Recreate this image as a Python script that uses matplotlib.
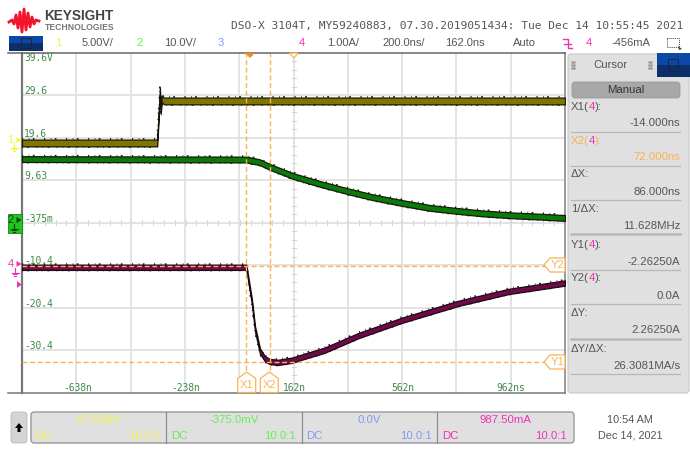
import matplotlib
matplotlib.use("Agg")
import matplotlib.pyplot as plt
from matplotlib.patches import FancyBboxPatch, Rectangle, Polygon
import numpy as np

W, H = 690, 450
PX0, PX1, PY0, PY1 = 22, 565, 53, 392.5

# ---- data (time in ns; vertical in the scope's on-screen scale) ----
ch1_t = [-842, -343, -333, -330, -326, -318, 1162]
ch1_v = [18.4, 18.4, 30.6, 26.0, 28.8, 28.3, 28.3]
ch2_t = [-842, -14, 36, 71, 159, 258, 362, 453, 565, 664, 762, 859, 965, 1070, 1162]
ch2_v = [14.6, 14.5, 13.85, 12.8, 10.6, 8.75, 7.0, 5.6, 4.2, 3.1, 2.4, 1.8, 1.35, 1.04, 0.73]
ch4_t = [-842, -14, 6, 18, 36, 55, 73, 103, 153, 276, 399, 559, 768, 953, 1162]
ch4_v = [-10.9, -10.9, -18.8, -25.4, -30.6, -32.5, -33.1, -33.3, -32.8, -30.4, -27.0, -23.4, -19.4, -16.6, -14.6]
grid_labels = ["39.6V", "29.6", "19.6", "9.63", "-375m", "-10.4", "-20.4", "-30.4"]
grid_values = [39.6, 29.6, 19.6, 9.63, -0.375, -10.4, -20.4, -30.4]
time_labels = ["-638n", "-238n", "162n", "562n", "962ns"]
time_values = [-638, -238, 162, 562, 962]
x1_ns, x2_ns = -14, 72
y1_v, y2_v = -33.3, -10.5
cursor_rows = [("X1", "-14.000ns"), ("X2", "72.000ns"), ("ΔX:", "86.000ns"), ("1/ΔX:", "11.628MHz"),
               ("Y1", "-2.26250A"), ("Y2", "0.0A"), ("ΔY:", "2.26250A"), ("ΔY/ΔX:", "26.3081MA/s")]

SANS = "Liberation Sans"
MONO = "DejaVu Sans Mono"
GREY = "#555555"
ORANGE = "#f9b355"
PINK = "#f032b4"
YEL = "#f5f545"
GRN = "#66ee55"
BLU = "#7f9cf5"

fig = plt.figure(figsize=(W / 100, H / 100), dpi=100, facecolor="white")
ui = fig.add_axes([0, 0, 1, 1], zorder=5)
ui.set_xlim(0, W); ui.set_ylim(H, 0); ui.axis("off")

def T(x, y, s, c=GREY, fs=8, ha="left", va="center", fam=SANS, **k):
    return ui.text(x, y, s, color=c, fontsize=fs, ha=ha, va=va, family=fam, **k)

# logo
logo_x = [9, 12, 14, 16, 18, 20, 22, 24, 26, 28, 30, 32, 34, 36, 39]
logo_y = [22, 20, 24, 15, 28, 12, 32, 9, 30, 13, 27, 17, 24, 20, 21]
ui.plot(logo_x, logo_y, color="#f0142d", lw=2.0, solid_joinstyle="round")
T(44, 16, "KEYSIGHT", "#444444", 9.8, fontweight="bold")
T(45, 27, "TECHNOLOGIES", "#777777", 6.2, fontweight="bold")
T(231, 25.5, "DSO-X 3104T, MY59240883, 07.30.2019051434: Tue Dec 14 10:55:45 2021", GREY, 8.08, fam=MONO)

# header row
ui.add_patch(Rectangle((8.5, 35.5), 34.5, 7.5, fc="#0b48a8", ec="none"))
ui.add_patch(Rectangle((8.5, 43), 34.5, 7.5, fc="#0a2f6a", ec="none"))
ui.add_patch(Rectangle((21, 38), 10, 10, fc="none", ec="#222222", lw=.6))
for x, s, c in [(58, "1", YEL), (82, "5.00V/", GREY), (139.5, "2", GRN), (164, "10.0V/", GREY),
                (221, "3", BLU), (302, "4", PINK), (327, "1.00A/", GREY), (382, "200.0ns/", GREY),
                (445, "162.0ns", GREY), (513, "Auto", GREY), (589, "4", PINK), (612, "-456mA", GREY)]:
    T(x, 43.5, s, c, 8, ha="center" if len(s) == 1 else "left")
ui.plot([563, 568, 568, 572], [39, 39, 48, 48], color=PINK, lw=1)
ui.plot([564, 571], [43.5, 43.5], color=PINK, lw=1)
ui.add_patch(Rectangle((667, 37.5), 12, 9.5, fc="none", ec="#444444", lw=.7, ls=(0, (1, 1))))
ui.add_patch(Polygon([(678, 46), (682, 49), (679, 50)], fc="#444444", ec="none"))

# frame lines that run past the plot
ui.plot([8, PX1], [52.5, 52.5], color="#666666", lw=1.1, zorder=7)
ui.plot([8, PX1], [393, 393], color="#777777", lw=1.1, zorder=7)

# scope plot
ax = fig.add_axes([PX0 / W, 1 - PY1 / H, (PX1 - PX0) / W, (PY1 - PY0) / H], zorder=1)
ax.set_xlim(-842, 1162); ax.set_ylim(-40.4, 39.6)
ax.set_xticks([]); ax.set_yticks([])
for name, s in ax.spines.items():
    s.set_visible(name in ("left", "right"))
ax.spines["left"].set(color="#777777", lw=1.6)
ax.spines["right"].set(color="#999999", lw=1.4)
for k in range(1, 10):
    ax.axvline(-842 + k * 200.4, color="#e0e0e0", lw=1.3, zorder=1)
for k in range(1, 8):
    ax.axhline(-40.4 + k * 10, color="#e0e0e0", lw=1.3, zorder=1)
# minor ticks on the central axes
for k in range(-24, 26):
    ax.plot([162 + k * 40] * 2, [-1.0, 0.25], color="#d4d4d4", lw=.7, zorder=1)
for k in range(-19, 20):
    ax.plot([156, 168], [-0.375 + k * 2] * 2, color="#d4d4d4", lw=.7, zorder=1)

def trace(t, v, core, half, edge="#17170a"):
    t, v = np.asarray(t, float), np.asarray(v, float)
    ax.fill_between(t, v - half, v + half, fc=core, ec=edge, lw=.9, zorder=4)
    # edge fuzz: dashed styling of the same trace, offset to the band's rims
    for sign, dash in ((1, (.7, 3.3, .4, 2.1, 1.0, 5.7)), (-1, (.4, 2.7, 1.1, 4.3, .6, 3.1))):
        ax.plot(t, v + sign * half * 1.2, color=edge, lw=1.2, ls=(0, dash), zorder=3)

trace(ch1_t, ch1_v, "#7f7600", .8)
trace(ch2_t, ch2_v, "#0a7a0a", .68)
trace(ch4_t, ch4_v, "#6e0a45", .62, "#1a0a12")

for x in (x1_ns, x2_ns):
    ax.axvline(x, color=ORANGE, lw=1, ls=(0, (3.5, 2)), zorder=5)
for y in (y1_v, y2_v):
    ax.axhline(y, color=ORANGE, lw=1, ls=(0, (3.5, 2)), zorder=5)
for lab, val in zip(grid_labels, grid_values):
    ax.annotate(lab, (-842, val), xytext=(1.5, 2.9 if val < 39 else -3.6), textcoords="offset points",
                color="#3d8a48", fontsize=6.9, family=MONO, va="center", zorder=6)
for lab, val in zip(time_labels, time_values):
    ax.annotate(lab, (val, -40.4), xytext=(0, 3.0), textcoords="offset points", color="#3d8a48",
                fontsize=6.9, family=MONO, ha="center", va="center", zorder=6)

# cursor flags
def xflag(cx, s):
    ui.add_patch(Polygon([(cx, 372), (cx + 9, 378.5), (cx + 9, 392.5), (cx - 9, 392.5), (cx - 9, 378.5)],
                         fc="white", ec=ORANGE, lw=.9, zorder=8))
    T(cx, 385.5, s, ORANGE, 8, ha="center", zorder=9)
def yflag(cy, s):
    ui.add_patch(Polygon([(544, cy), (550, cy - 7), (565, cy - 7), (565, cy + 7), (550, cy + 7)],
                         fc="white", ec=ORANGE, lw=.9, zorder=8))
    T(557.5, cy, s, ORANGE, 8, ha="center", zorder=9)
xflag(246.7, "X1"); xflag(269.3, "X2"); yflag(265, "Y2"); yflag(362, "Y1")
ui.add_patch(Polygon([(245, 53), (255, 53), (250, 58)], fc="#f58a1f", ec="none", zorder=8))
ui.add_patch(Polygon([(289.5, 53), (298, 53), (293.8, 58)], fc="white", ec=ORANGE, lw=.9, zorder=8))

# channel markers at the left edge
def ground(x, y, c):
    ui.plot([x, x], [y, y + 5], color=c, lw=.9, zorder=9)
    for i, w in enumerate((3.5, 2.3, 1)):
        ui.plot([x - w, x + w], [y + 5 + i * 1.3] * 2, color=c, lw=.8, zorder=9)
def marker(y, s, c, gx, gy):
    T(10.5, y, s, c, 8, ha="center", zorder=9)
    ui.add_patch(Polygon([(16.5, y - 3), (21.5, y), (16.5, y + 3)], fc=c, ec="none", zorder=9))
    ground(gx, gy, c)
marker(140, "1", YEL, 14, 143)
ui.add_patch(Rectangle((8, 214), 13.5, 19, fc="#22c422", ec="#118811", lw=.6, zorder=8))
marker(220, "2", "#0a4a0a", 14, 224)
marker(264, "4", PINK, 15, 268)
ui.add_patch(Polygon([(17, 281), (21.7, 284.5), (17, 288)], fc=PINK, ec="none", zorder=8))

# cursor panel
ui.add_patch(FancyBboxPatch((568, 54), 121, 339, boxstyle="round,pad=0,rounding_size=3", fc="#e0e0e0", ec="#c8c8c8", lw=.8))
ui.add_patch(Rectangle((657, 53), 33, 12, fc="#0b48a8", ec="none"))
ui.add_patch(Rectangle((657, 65), 33, 12, fc="#0a2f6a", ec="none"))
ui.add_patch(Rectangle((668, 59), 10, 12, fc="none", ec="#222222", lw=.6))
T(610, 65, "Cursor", GREY, 8.2, ha="center")
for gx in (573, 650):
    for dy in (-3, 0, 3):
        ui.plot([gx - 1, gx + 1], [65 + dy] * 2, ls="none", marker="s", ms=.8, color="#999999")
ui.add_patch(FancyBboxPatch((572, 82), 108, 16, boxstyle="round,pad=0,rounding_size=3", fc="#a8a8a8", ec="#999999", lw=.6))
T(626, 90, "Manual", "#333333", 8.2, ha="center")
label_y = [107, 141, 174, 209, 245, 278, 313, 349]
value_y = [123, 157, 192, 226, 262, 296, 330, 366]
sep_y = [132, 166, 200, 234, 270, 304, 339, 374]
for i, (lab, val) in enumerate(cursor_rows):
    col = ORANGE if lab == "X2" else GREY
    if lab in ("X1", "X2", "Y1", "Y2"):
        t = T(571, label_y[i], lab + "(", col, 8.2)
        t2 = ui.annotate("4", xy=(1, .5), xycoords=t, xytext=(0, 0), textcoords="offset points",
                         color=PINK, fontsize=8.2, family=SANS, va="center")
        ui.annotate("):", xy=(1, .5), xycoords=t2, xytext=(0, 0), textcoords="offset points",
                    color=col, fontsize=8.2, family=SANS, va="center")
    else:
        T(571, label_y[i], lab, col, 8.2)
    T(680, value_y[i], val, col, 8.2, ha="right")
    ui.plot([571, 680], [sep_y[i]] * 2, color="#b8b8b8", lw=1.8 if i in (3, 6) else .9)

# bottom bar
ui.add_patch(FancyBboxPatch((11, 412), 16, 31, boxstyle="round,pad=0,rounding_size=3", fc="#d4d4d4", ec="#bbbbbb", lw=.6))
ui.add_patch(Polygon([(19, 423), (23, 428), (20.5, 428), (20.5, 432), (17.5, 432), (17.5, 428), (15, 428)], fc="black", ec="none"))
ui.add_patch(FancyBboxPatch((31, 412), 543, 31, boxstyle="round,pad=0,rounding_size=3", fc="#e0e0e0", ec="#8f8f8f", lw=.9))
for x in (165.7, 301.7, 437):
    ui.plot([x, x], [412, 443], color="#8f8f8f", lw=.9)
for x0, x1, cx, top, c in [(35.5, 160.7, 98, "-9.7500V", YEL), (171, 296, 234, "-375.0mV", GRN),
                           (306.5, 431.7, 369, "0.0V", BLU), (442, 567, 505, "987.50mA", PINK)]:
    T(cx, 420, top, c, 8.2, ha="center")
    T(x0, 436, "DC", c, 8.2)
    T(x1, 436, "10.0:1", c, 8.2, ha="right")
T(630, 420, "10:54 AM", GREY, 7.8, ha="center")
T(630, 436, "Dec 14, 2021", GREY, 7.8, ha="center")

fig.savefig("out.png", dpi=100, facecolor="white")
